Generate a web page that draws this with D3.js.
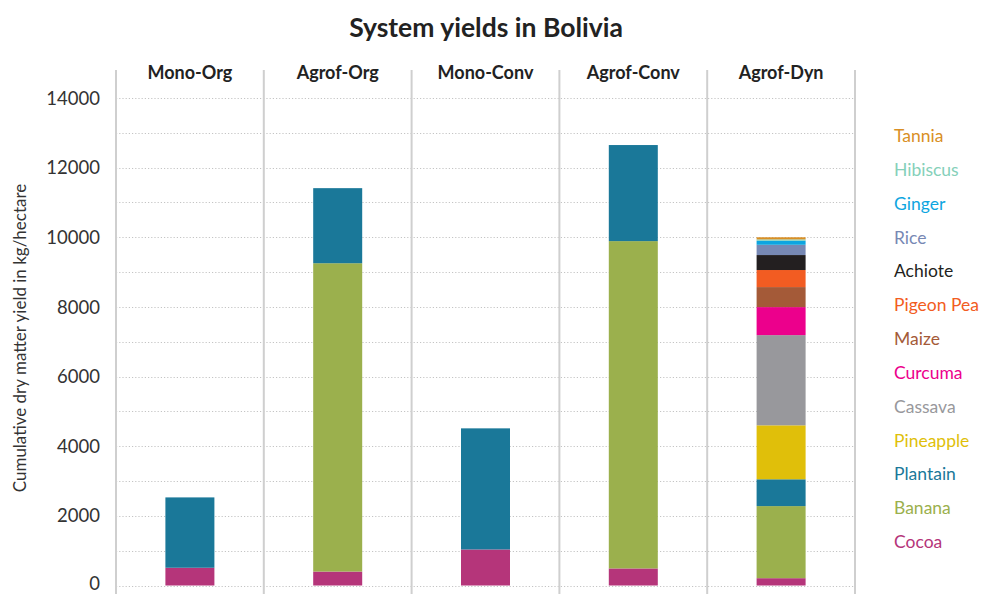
<!DOCTYPE html>
<html>
<head>
<meta charset="utf-8">
<script src="https://cdn.jsdelivr.net/npm/d3@7"></script>
<style>
  body { margin: 0; background: #fff; }
  svg { display: block; }
  text { font-family: Lato, "Noto Sans", sans-serif; }
</style>
</head>
<body>
<svg id="chart" width="981" height="594"></svg>
<script>
const systems = ["Mono-Org", "Agrof-Org", "Mono-Conv", "Agrof-Conv", "Agrof-Dyn"];
const crops = ["Cocoa", "Banana", "Plantain", "Pineapple", "Cassava", "Curcuma", "Maize", "Pigeon Pea", "Achiote", "Rice", "Ginger", "Hibiscus", "Tannia"];
const cocoa     = [510, 400, 1035, 490, 210];
const banana    = [0, 8855, 0, 9400, 2070];
const plantain  = [2020, 2156, 3478, 2759, 770];
const pineapple = [0, 0, 0, 0, 1550];
const cassava   = [0, 0, 0, 0, 2590];
const curcuma   = [0, 0, 0, 0, 805];
const maize     = [0, 0, 0, 0, 575];
const pigeonPea = [0, 0, 0, 0, 490];
const achiote   = [0, 0, 0, 0, 430];
const rice      = [0, 0, 0, 0, 295];
const ginger    = [0, 0, 0, 0, 115];
const hibiscus  = [0, 0, 0, 0, 40];
const tannia    = [0, 0, 0, 0, 60];
const yTicks = [0, 2000, 4000, 6000, 8000, 10000, 12000, 14000];
const gridTicks = [0, 1000, 2000, 3000, 4000, 5000, 6000, 7000, 8000, 9000, 10000, 11000, 12000, 13000, 14000];
const cropColors = ["#b5357a", "#9bb04d", "#1a7899", "#e0bf0a", "#98989c", "#ec008c", "#a45a38", "#f25c22", "#231f20", "#7788b4", "#0ea5e0", "#85d0b9", "#d98f25"];

const seriesValues = [cocoa, banana, plantain, pineapple, cassava, curcuma, maize, pigeonPea, achiote, rice, ginger, hibiscus, tannia];

const table = systems.map((s, i) => {
  const row = { system: s };
  crops.forEach((c, j) => { row[c] = seriesValues[j][i]; });
  return row;
});

const svg = d3.select("#chart");
const x = d3.scaleBand().domain(systems).range([116, 855]).padding(0);
const y = d3.scaleLinear().domain([0, 14000]).range([585.5, 98]);
const color = d3.scaleOrdinal().domain(crops).range(cropColors);
const barW = 49;

// gridlines
svg.append("g").selectAll("line").data(gridTicks).join("line")
  .attr("x1", 116).attr("x2", 855)
  .attr("y1", d => Math.round(y(d)) + 0.5).attr("y2", d => Math.round(y(d)) + 0.5)
  .attr("stroke", "#c4c4c4").attr("stroke-width", 1).attr("stroke-dasharray", "1.2,2");

// panel separators
const seps = systems.map(s => x(s)).concat([855]);
svg.append("g").selectAll("line").data(seps).join("line")
  .attr("x1", d => d).attr("x2", d => d)
  .attr("y1", 70).attr("y2", 594)
  .attr("stroke", "#cfcfcf").attr("stroke-width", 2);

// bars
const stack = d3.stack().keys(crops)(table);
svg.append("g").selectAll("g").data(stack).join("g")
  .attr("fill", d => color(d.key))
  .selectAll("rect").data(d => d).join("rect")
  .attr("x", d => x(d.data.system) + x.bandwidth() / 2 - barW / 2)
  .attr("width", barW)
  .attr("y", d => y(d[1]))
  .attr("height", d => Math.max(0, y(d[0]) - y(d[1])));

// y axis labels
const yAxis = d3.axisLeft(y).tickValues(yTicks).tickSize(0).tickPadding(0).tickFormat(d3.format("d"));
const ya = svg.append("g").attr("transform", "translate(100,0)").call(yAxis);
ya.select(".domain").remove();
ya.selectAll("text").attr("font-size", 18.5).attr("fill", "#333").attr("font-family", "Lato, sans-serif")
  .attr("dy", d => d === 0 ? "0.24em" : "0.33em");

// facet labels
svg.append("g").selectAll("text").data(systems).join("text")
  .attr("x", d => x(d) + x.bandwidth() / 2)
  .attr("y", 79)
  .attr("text-anchor", "middle")
  .attr("font-size", 18).attr("font-weight", "bold").attr("fill", "#222")
  .text(d => d);

// title
svg.append("text").attr("x", 486).attr("y", 37).attr("text-anchor", "middle")
  .attr("font-size", 26.5).attr("font-weight", "bold").attr("fill", "#222")
  .text("System yields in Bolivia");

// y label
svg.append("text").attr("transform", "translate(26,338) rotate(-90)")
  .attr("text-anchor", "middle").attr("font-size", 17).attr("fill", "#333")
  .text("Cumulative dry matter yield in kg/hectare");

// legend
const legendOrder = crops.slice().reverse();
const ly = d3.scalePoint().domain(legendOrder).range([136, 542]);
svg.append("g").selectAll("text").data(legendOrder).join("text")
  .attr("x", 894).attr("y", d => ly(d)).attr("dy", "0.35em")
  .attr("font-size", 17.5).attr("fill", d => color(d))
  .text(d => d);
</script>
</body>
</html>
